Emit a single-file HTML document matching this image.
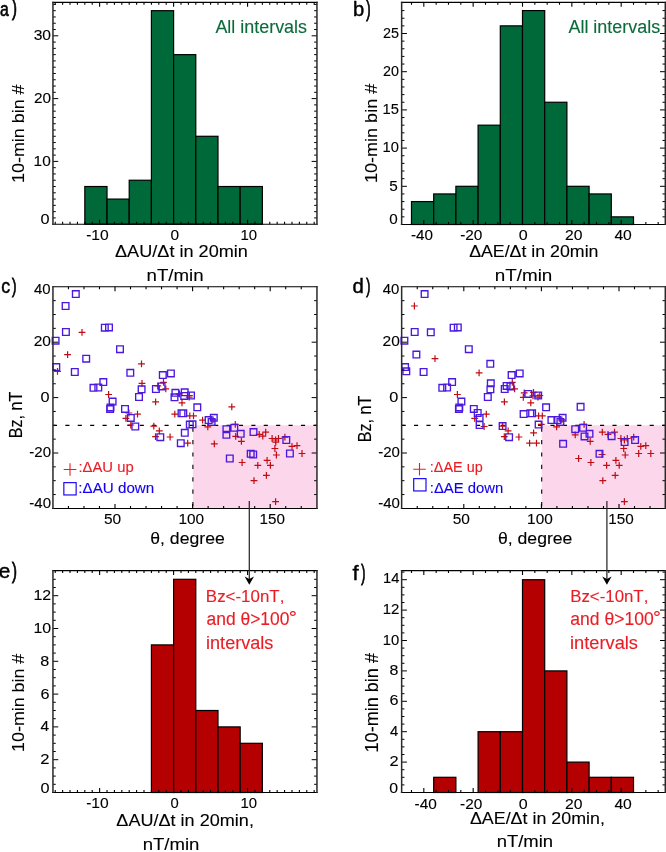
<!DOCTYPE html>
<html><head><meta charset="utf-8"><style>
html,body{margin:0;padding:0;background:#fff;width:666px;height:852px;overflow:hidden}
svg{display:block;will-change:transform}
text{font-family:"Liberation Sans",sans-serif;font-kerning:none;font-variant-ligatures:none}
</style></head><body>
<svg width="666" height="852" viewBox="0 0 666 852" font-family="Liberation Sans">
<rect width="666" height="852" fill="#fff"/>
<rect x="84.82" y="186.52" width="22.19" height="37.68" fill="#00693a" stroke="#000" stroke-width="1.2"/>
<rect x="107.02" y="199.08" width="22.19" height="25.12" fill="#00693a" stroke="#000" stroke-width="1.2"/>
<rect x="129.21" y="180.24" width="22.19" height="43.96" fill="#00693a" stroke="#000" stroke-width="1.2"/>
<rect x="151.41" y="10.68" width="22.19" height="213.52" fill="#00693a" stroke="#000" stroke-width="1.2"/>
<rect x="173.60" y="54.64" width="22.19" height="169.56" fill="#00693a" stroke="#000" stroke-width="1.2"/>
<rect x="195.79" y="136.28" width="22.19" height="87.92" fill="#00693a" stroke="#000" stroke-width="1.2"/>
<rect x="217.99" y="186.52" width="22.19" height="37.68" fill="#00693a" stroke="#000" stroke-width="1.2"/>
<rect x="240.18" y="186.52" width="22.19" height="37.68" fill="#00693a" stroke="#000" stroke-width="1.2"/>
<path d="M55.23,224.20v-2.4M55.23,2.35v2.4M62.63,224.20v-2.4M62.63,2.35v2.4M70.03,224.20v-2.4M70.03,2.35v2.4M77.43,224.20v-2.4M77.43,2.35v2.4M84.82,224.20v-2.4M84.82,2.35v2.4M92.22,224.20v-2.4M92.22,2.35v2.4M99.62,224.20v-4.4M99.62,2.35v4.4M107.02,224.20v-2.4M107.02,2.35v2.4M114.42,224.20v-2.4M114.42,2.35v2.4M121.81,224.20v-2.4M121.81,2.35v2.4M129.21,224.20v-2.4M129.21,2.35v2.4M136.61,224.20v-2.4M136.61,2.35v2.4M144.01,224.20v-2.4M144.01,2.35v2.4M151.41,224.20v-2.4M151.41,2.35v2.4M158.80,224.20v-2.4M158.80,2.35v2.4M166.20,224.20v-2.4M166.20,2.35v2.4M173.60,224.20v-4.4M173.60,2.35v4.4M181.00,224.20v-2.4M181.00,2.35v2.4M188.40,224.20v-2.4M188.40,2.35v2.4M195.79,224.20v-2.4M195.79,2.35v2.4M203.19,224.20v-2.4M203.19,2.35v2.4M210.59,224.20v-2.4M210.59,2.35v2.4M217.99,224.20v-2.4M217.99,2.35v2.4M225.39,224.20v-2.4M225.39,2.35v2.4M232.78,224.20v-2.4M232.78,2.35v2.4M240.18,224.20v-2.4M240.18,2.35v2.4M247.58,224.20v-4.4M247.58,2.35v4.4M254.98,224.20v-2.4M254.98,2.35v2.4M262.38,224.20v-2.4M262.38,2.35v2.4M269.77,224.20v-2.4M269.77,2.35v2.4M277.17,224.20v-2.4M277.17,2.35v2.4M284.57,224.20v-2.4M284.57,2.35v2.4M291.97,224.20v-2.4M291.97,2.35v2.4M299.37,224.20v-2.4M299.37,2.35v2.4M306.76,224.20v-2.4M306.76,2.35v2.4M314.16,224.20v-2.4M314.16,2.35v2.4" stroke="#000" stroke-width="1.1" fill="none"/>
<path d="M52.95,217.92h2.8M316.95,217.92h-2.8M52.95,211.64h2.8M316.95,211.64h-2.8M52.95,205.36h2.8M316.95,205.36h-2.8M52.95,199.08h2.8M316.95,199.08h-2.8M52.95,192.80h2.8M316.95,192.80h-2.8M52.95,186.52h2.8M316.95,186.52h-2.8M52.95,180.24h2.8M316.95,180.24h-2.8M52.95,173.96h2.8M316.95,173.96h-2.8M52.95,167.68h2.8M316.95,167.68h-2.8M52.95,161.40h5.3M316.95,161.40h-5.3M52.95,155.12h2.8M316.95,155.12h-2.8M52.95,148.84h2.8M316.95,148.84h-2.8M52.95,142.56h2.8M316.95,142.56h-2.8M52.95,136.28h2.8M316.95,136.28h-2.8M52.95,130.00h2.8M316.95,130.00h-2.8M52.95,123.72h2.8M316.95,123.72h-2.8M52.95,117.44h2.8M316.95,117.44h-2.8M52.95,111.16h2.8M316.95,111.16h-2.8M52.95,104.88h2.8M316.95,104.88h-2.8M52.95,98.60h5.3M316.95,98.60h-5.3M52.95,92.32h2.8M316.95,92.32h-2.8M52.95,86.04h2.8M316.95,86.04h-2.8M52.95,79.76h2.8M316.95,79.76h-2.8M52.95,73.48h2.8M316.95,73.48h-2.8M52.95,67.20h2.8M316.95,67.20h-2.8M52.95,60.92h2.8M316.95,60.92h-2.8M52.95,54.64h2.8M316.95,54.64h-2.8M52.95,48.36h2.8M316.95,48.36h-2.8M52.95,42.08h2.8M316.95,42.08h-2.8M52.95,35.80h5.3M316.95,35.80h-5.3M52.95,29.52h2.8M316.95,29.52h-2.8M52.95,23.24h2.8M316.95,23.24h-2.8M52.95,16.96h2.8M316.95,16.96h-2.8M52.95,10.68h2.8M316.95,10.68h-2.8M52.95,4.40h2.8M316.95,4.40h-2.8" stroke="#000" stroke-width="1.0" fill="none"/>
<path d="M52.20,2.35H317.70M52.20,224.20H317.70" stroke="#000" stroke-width="1.05" fill="none"/>
<path d="M52.95,1.83V224.72M316.95,1.83V224.72" stroke="#2a2a2a" stroke-width="1.5" fill="none"/>
<rect x="411.49" y="201.58" width="22.20" height="22.92" fill="#00693a" stroke="#000" stroke-width="1.2"/>
<rect x="433.69" y="193.94" width="22.20" height="30.56" fill="#00693a" stroke="#000" stroke-width="1.2"/>
<rect x="455.89" y="186.30" width="22.20" height="38.20" fill="#00693a" stroke="#000" stroke-width="1.2"/>
<rect x="478.09" y="125.18" width="22.20" height="99.32" fill="#00693a" stroke="#000" stroke-width="1.2"/>
<rect x="500.30" y="25.86" width="22.20" height="198.64" fill="#00693a" stroke="#000" stroke-width="1.2"/>
<rect x="522.50" y="10.58" width="22.20" height="213.92" fill="#00693a" stroke="#000" stroke-width="1.2"/>
<rect x="544.70" y="102.26" width="22.20" height="122.24" fill="#00693a" stroke="#000" stroke-width="1.2"/>
<rect x="566.91" y="186.30" width="22.20" height="38.20" fill="#00693a" stroke="#000" stroke-width="1.2"/>
<rect x="589.11" y="193.94" width="22.20" height="30.56" fill="#00693a" stroke="#000" stroke-width="1.2"/>
<rect x="611.31" y="216.86" width="22.20" height="7.64" fill="#00693a" stroke="#000" stroke-width="1.2"/>
<path d="M411.49,224.50v-2.4M411.49,2.35v2.4M423.82,224.50v-4.4M423.82,2.35v4.4M436.15,224.50v-2.4M436.15,2.35v2.4M448.49,224.50v-2.4M448.49,2.35v2.4M460.82,224.50v-2.4M460.82,2.35v2.4M473.16,224.50v-4.4M473.16,2.35v4.4M485.50,224.50v-2.4M485.50,2.35v2.4M497.83,224.50v-2.4M497.83,2.35v2.4M510.17,224.50v-2.4M510.17,2.35v2.4M522.50,224.50v-4.4M522.50,2.35v4.4M534.84,224.50v-2.4M534.84,2.35v2.4M547.17,224.50v-2.4M547.17,2.35v2.4M559.50,224.50v-2.4M559.50,2.35v2.4M571.84,224.50v-4.4M571.84,2.35v4.4M584.17,224.50v-2.4M584.17,2.35v2.4M596.51,224.50v-2.4M596.51,2.35v2.4M608.85,224.50v-2.4M608.85,2.35v2.4M621.18,224.50v-4.4M621.18,2.35v4.4M633.51,224.50v-2.4M633.51,2.35v2.4M645.85,224.50v-2.4M645.85,2.35v2.4M658.18,224.50v-2.4M658.18,2.35v2.4" stroke="#000" stroke-width="1.1" fill="none"/>
<path d="M401.65,216.86h2.8M665.30,216.86h-2.8M401.65,209.22h2.8M665.30,209.22h-2.8M401.65,201.58h2.8M665.30,201.58h-2.8M401.65,193.94h2.8M665.30,193.94h-2.8M401.65,186.30h5.3M665.30,186.30h-5.3M401.65,178.66h2.8M665.30,178.66h-2.8M401.65,171.02h2.8M665.30,171.02h-2.8M401.65,163.38h2.8M665.30,163.38h-2.8M401.65,155.74h2.8M665.30,155.74h-2.8M401.65,148.10h5.3M665.30,148.10h-5.3M401.65,140.46h2.8M665.30,140.46h-2.8M401.65,132.82h2.8M665.30,132.82h-2.8M401.65,125.18h2.8M665.30,125.18h-2.8M401.65,117.54h2.8M665.30,117.54h-2.8M401.65,109.90h5.3M665.30,109.90h-5.3M401.65,102.26h2.8M665.30,102.26h-2.8M401.65,94.62h2.8M665.30,94.62h-2.8M401.65,86.98h2.8M665.30,86.98h-2.8M401.65,79.34h2.8M665.30,79.34h-2.8M401.65,71.70h5.3M665.30,71.70h-5.3M401.65,64.06h2.8M665.30,64.06h-2.8M401.65,56.42h2.8M665.30,56.42h-2.8M401.65,48.78h2.8M665.30,48.78h-2.8M401.65,41.14h2.8M665.30,41.14h-2.8M401.65,33.50h5.3M665.30,33.50h-5.3M401.65,25.86h2.8M665.30,25.86h-2.8M401.65,18.22h2.8M665.30,18.22h-2.8M401.65,10.58h2.8M665.30,10.58h-2.8" stroke="#000" stroke-width="1.0" fill="none"/>
<path d="M400.90,2.35H666.05M400.90,224.50H666.05" stroke="#000" stroke-width="1.05" fill="none"/>
<path d="M401.65,1.83V225.03M665.30,1.83V225.03" stroke="#2a2a2a" stroke-width="1.5" fill="none"/>
<rect x="192.90" y="425.30" width="124.05" height="83.10" fill="#fcd6eb"/>
<path d="M52.95,425.30H316.95" stroke="#000" stroke-width="1.15" stroke-dasharray="4.1 8.3" fill="none"/>
<path d="M192.90,425.30V508.40" stroke="#000" stroke-width="1.1" stroke-dasharray="4.2 8.2" stroke-dashoffset="10.1" fill="none"/>
<path d="M78.60,332.30h6.80M82.00,328.90v6.80M64.20,354.60h6.80M67.60,351.20v6.80M138.10,363.80h6.80M141.50,360.40v6.80M54.10,371.30h6.80M57.50,367.90v6.80M138.60,383.30h6.80M142.00,379.90v6.80M105.20,394.50h6.80M108.60,391.10v6.80M125.50,413.00h6.80M128.90,409.60v6.80M134.10,414.10h6.80M137.50,410.70v6.80M122.50,418.40h6.80M125.90,415.00v6.80M127.40,425.00h6.80M130.80,421.60v6.80M154.40,385.90h6.80M157.80,382.50v6.80M160.10,382.30h6.80M163.50,378.90v6.80M162.40,388.90h6.80M165.80,385.50v6.80M152.20,401.80h6.80M155.60,398.40v6.80M176.10,393.90h6.80M179.50,390.50v6.80M186.00,395.50h6.80M189.40,392.10v6.80M185.80,397.10h6.80M189.20,393.70v6.80M178.60,402.90h6.80M182.00,399.50v6.80M228.40,406.80h6.80M231.80,403.40v6.80M171.40,414.10h6.80M174.80,410.70v6.80M186.40,415.90h6.80M189.80,412.50v6.80M190.10,415.90h6.80M193.50,412.50v6.80M199.20,420.10h6.80M202.60,416.70v6.80M209.70,419.80h6.80M213.10,416.40v6.80M204.40,426.80h6.80M207.80,423.40v6.80M150.40,426.10h6.80M153.80,422.70v6.80M150.40,426.10h6.80M153.80,422.70v6.80M155.90,430.90h6.80M159.30,427.50v6.80M152.10,436.70h6.80M155.50,433.30v6.80M166.70,437.00h6.80M170.10,433.60v6.80M184.30,443.20h6.80M187.70,439.80v6.80M210.90,443.80h6.80M214.30,440.40v6.80M231.90,424.30h6.80M235.30,420.90v6.80M232.30,436.40h6.80M235.70,433.00v6.80M238.00,441.40h6.80M241.40,438.00v6.80M255.80,434.30h6.80M259.20,430.90v6.80M259.40,436.20h6.80M262.80,432.80v6.80M262.30,432.10h6.80M265.70,428.70v6.80M268.70,438.50h6.80M272.10,435.10v6.80M272.20,440.00h6.80M275.60,436.60v6.80M272.40,442.10h6.80M275.80,438.70v6.80M275.10,438.50h6.80M278.50,435.10v6.80M281.50,437.10h6.80M284.90,433.70v6.80M288.60,446.40h6.80M292.00,443.00v6.80M293.60,445.70h6.80M297.00,442.30v6.80M271.50,448.50h6.80M274.90,445.10v6.80M273.00,455.00h6.80M276.40,451.60v6.80M298.60,453.50h6.80M302.00,450.10v6.80M238.70,462.50h6.80M242.10,459.10v6.80M254.40,465.40h6.80M257.80,462.00v6.80M263.70,460.40h6.80M267.10,457.00v6.80M267.00,465.40h6.80M270.40,462.00v6.80M263.00,475.40h6.80M266.40,472.00v6.80M250.60,480.60h6.80M254.00,477.20v6.80M272.20,501.60h6.80M275.60,498.20v6.80" stroke="#c00c14" stroke-width="1.2" fill="none"/>
<path d="M72.47,290.77h6.66v6.66h-6.66zM62.27,302.67h6.66v6.66h-6.66zM62.57,328.67h6.66v6.66h-6.66zM52.27,337.37h6.66v6.66h-6.66zM101.47,324.37h6.66v6.66h-6.66zM105.67,324.07h6.66v6.66h-6.66zM116.67,345.87h6.66v6.66h-6.66zM82.87,355.37h6.66v6.66h-6.66zM52.97,363.77h6.66v6.66h-6.66zM71.47,368.67h6.66v6.66h-6.66zM126.97,369.47h6.66v6.66h-6.66zM99.97,378.77h6.66v6.66h-6.66zM90.17,384.47h6.66v6.66h-6.66zM94.97,384.17h6.66v6.66h-6.66zM138.27,385.97h6.66v6.66h-6.66zM135.67,393.67h6.66v6.66h-6.66zM109.27,398.27h6.66v6.66h-6.66zM107.17,404.07h6.66v6.66h-6.66zM106.77,405.77h6.66v6.66h-6.66zM121.67,405.57h6.66v6.66h-6.66zM127.47,414.57h6.66v6.66h-6.66zM131.97,423.17h6.66v6.66h-6.66zM159.47,371.77h6.66v6.66h-6.66zM167.57,370.07h6.66v6.66h-6.66zM152.57,385.67h6.66v6.66h-6.66zM158.27,383.07h6.66v6.66h-6.66zM172.07,389.47h6.66v6.66h-6.66zM171.17,393.97h6.66v6.66h-6.66zM181.37,388.97h6.66v6.66h-6.66zM180.87,392.57h6.66v6.66h-6.66zM187.67,392.17h6.66v6.66h-6.66zM193.97,403.97h6.66v6.66h-6.66zM178.17,409.97h6.66v6.66h-6.66zM179.97,409.97h6.66v6.66h-6.66zM205.27,416.77h6.66v6.66h-6.66zM210.47,414.47h6.66v6.66h-6.66zM208.27,418.57h6.66v6.66h-6.66zM186.47,421.27h6.66v6.66h-6.66zM189.17,420.97h6.66v6.66h-6.66zM181.47,429.47h6.66v6.66h-6.66zM156.97,433.87h6.66v6.66h-6.66zM177.47,439.87h6.66v6.66h-6.66zM226.47,455.17h6.66v6.66h-6.66zM223.07,425.87h6.66v6.66h-6.66zM223.07,431.47h6.66v6.66h-6.66zM230.97,424.47h6.66v6.66h-6.66zM237.37,430.47h6.66v6.66h-6.66zM250.17,428.77h6.66v6.66h-6.66zM282.97,436.67h6.66v6.66h-6.66zM286.57,450.17h6.66v6.66h-6.66zM247.37,450.47h6.66v6.66h-6.66zM249.87,451.17h6.66v6.66h-6.66z" stroke="#4a18e0" stroke-width="1.35" fill="none"/>
<path d="M68.44,508.40v-2.4M68.44,286.80v2.4M83.96,508.40v-2.4M83.96,286.80v2.4M99.48,508.40v-2.4M99.48,286.80v2.4M115.00,508.40v-4.4M115.00,286.80v4.4M130.52,508.40v-2.4M130.52,286.80v2.4M146.04,508.40v-2.4M146.04,286.80v2.4M161.56,508.40v-2.4M161.56,286.80v2.4M177.08,508.40v-2.4M177.08,286.80v2.4M192.60,508.40v-4.4M192.60,286.80v4.4M208.12,508.40v-2.4M208.12,286.80v2.4M223.64,508.40v-2.4M223.64,286.80v2.4M239.16,508.40v-2.4M239.16,286.80v2.4M254.68,508.40v-2.4M254.68,286.80v2.4M270.20,508.40v-4.4M270.20,286.80v4.4M285.72,508.40v-2.4M285.72,286.80v2.4M301.24,508.40v-2.4M301.24,286.80v2.4" stroke="#000" stroke-width="1.1" fill="none"/>
<path d="M52.95,494.55h2.8M316.95,494.55h-2.8M52.95,480.70h2.8M316.95,480.70h-2.8M52.95,466.85h2.8M316.95,466.85h-2.8M52.95,453.00h5.3M316.95,453.00h-5.3M52.95,439.15h2.8M316.95,439.15h-2.8M52.95,425.30h2.8M316.95,425.30h-2.8M52.95,411.45h2.8M316.95,411.45h-2.8M52.95,397.60h5.3M316.95,397.60h-5.3M52.95,383.75h2.8M316.95,383.75h-2.8M52.95,369.90h2.8M316.95,369.90h-2.8M52.95,356.05h2.8M316.95,356.05h-2.8M52.95,342.20h5.3M316.95,342.20h-5.3M52.95,328.35h2.8M316.95,328.35h-2.8M52.95,314.50h2.8M316.95,314.50h-2.8M52.95,300.65h2.8M316.95,300.65h-2.8" stroke="#000" stroke-width="1.0" fill="none"/>
<path d="M52.20,286.80H317.70M52.20,508.40H317.70" stroke="#000" stroke-width="1.05" fill="none"/>
<path d="M52.95,286.28V508.92M316.95,286.28V508.92" stroke="#2a2a2a" stroke-width="1.5" fill="none"/>
<rect x="541.70" y="425.30" width="123.60" height="83.10" fill="#fcd6eb"/>
<path d="M401.65,425.30H665.30" stroke="#000" stroke-width="1.15" stroke-dasharray="4.1 8.3" fill="none"/>
<path d="M541.70,425.30V508.40" stroke="#000" stroke-width="1.1" stroke-dasharray="4.2 8.2" stroke-dashoffset="10.1" fill="none"/>
<path d="M411.00,306.00h6.80M414.40,302.60v6.80M431.60,358.70h6.80M435.00,355.30v6.80M475.70,372.80h6.80M479.10,369.40v6.80M454.00,394.50h6.80M457.40,391.10v6.80M482.90,414.10h6.80M486.30,410.70v6.80M471.30,418.40h6.80M474.70,415.00v6.80M480.70,426.50h6.80M484.10,423.10v6.80M508.90,382.30h6.80M512.30,378.90v6.80M511.20,388.90h6.80M514.60,385.50v6.80M501.00,401.80h6.80M504.40,398.40v6.80M520.80,392.80h6.80M524.20,389.40v6.80M519.90,397.30h6.80M523.30,393.90v6.80M530.10,392.30h6.80M533.50,388.90v6.80M529.60,395.90h6.80M533.00,392.50v6.80M536.40,395.50h6.80M539.80,392.10v6.80M534.60,397.10h6.80M538.00,393.70v6.80M527.40,402.90h6.80M530.80,399.50v6.80M535.20,415.90h6.80M538.60,412.50v6.80M538.90,415.90h6.80M542.30,412.50v6.80M558.50,419.80h6.80M561.90,416.40v6.80M553.20,426.80h6.80M556.60,423.40v6.80M537.90,424.30h6.80M541.30,420.90v6.80M530.20,432.80h6.80M533.60,429.40v6.80M499.20,426.10h6.80M502.60,422.70v6.80M504.70,430.90h6.80M508.10,427.50v6.80M500.90,436.70h6.80M504.30,433.30v6.80M515.50,437.00h6.80M518.90,433.60v6.80M526.20,443.20h6.80M529.60,439.80v6.80M533.10,443.20h6.80M536.50,439.80v6.80M575.20,458.50h6.80M578.60,455.10v6.80M571.80,434.80h6.80M575.20,431.40v6.80M580.70,424.30h6.80M584.10,420.90v6.80M586.80,441.40h6.80M590.20,438.00v6.80M598.90,432.10h6.80M602.30,428.70v6.80M604.60,434.30h6.80M608.00,430.90v6.80M611.10,432.10h6.80M614.50,428.70v6.80M617.50,438.50h6.80M620.90,435.10v6.80M621.00,440.00h6.80M624.40,436.60v6.80M623.90,438.50h6.80M627.30,435.10v6.80M630.30,437.10h6.80M633.70,433.70v6.80M637.40,446.40h6.80M640.80,443.00v6.80M642.40,445.70h6.80M645.80,442.30v6.80M620.30,448.50h6.80M623.70,445.10v6.80M621.80,455.00h6.80M625.20,451.60v6.80M635.30,453.50h6.80M638.70,450.10v6.80M647.40,453.50h6.80M650.80,450.10v6.80M598.60,454.50h6.80M602.00,451.10v6.80M587.50,462.50h6.80M590.90,459.10v6.80M603.20,465.40h6.80M606.60,462.00v6.80M612.50,460.40h6.80M615.90,457.00v6.80M615.80,465.40h6.80M619.20,462.00v6.80M611.80,475.40h6.80M615.20,472.00v6.80M599.40,480.60h6.80M602.80,477.20v6.80M621.00,501.60h6.80M624.40,498.20v6.80" stroke="#c00c14" stroke-width="1.2" fill="none"/>
<path d="M421.27,290.77h6.66v6.66h-6.66zM411.37,328.67h6.66v6.66h-6.66zM401.07,337.37h6.66v6.66h-6.66zM450.27,324.37h6.66v6.66h-6.66zM454.47,324.07h6.66v6.66h-6.66zM465.47,345.87h6.66v6.66h-6.66zM427.47,328.97h6.66v6.66h-6.66zM413.07,351.27h6.66v6.66h-6.66zM486.97,360.47h6.66v6.66h-6.66zM401.77,363.77h6.66v6.66h-6.66zM402.97,367.97h6.66v6.66h-6.66zM420.27,368.67h6.66v6.66h-6.66zM448.77,378.77h6.66v6.66h-6.66zM438.97,384.47h6.66v6.66h-6.66zM443.77,384.17h6.66v6.66h-6.66zM487.47,379.97h6.66v6.66h-6.66zM487.07,385.97h6.66v6.66h-6.66zM484.47,393.67h6.66v6.66h-6.66zM458.07,398.27h6.66v6.66h-6.66zM455.97,404.07h6.66v6.66h-6.66zM455.57,405.77h6.66v6.66h-6.66zM470.47,405.57h6.66v6.66h-6.66zM474.37,409.67h6.66v6.66h-6.66zM476.27,414.57h6.66v6.66h-6.66zM476.27,421.67h6.66v6.66h-6.66zM508.27,371.77h6.66v6.66h-6.66zM516.37,370.07h6.66v6.66h-6.66zM501.37,385.67h6.66v6.66h-6.66zM507.07,383.07h6.66v6.66h-6.66zM503.27,382.57h6.66v6.66h-6.66zM524.97,390.57h6.66v6.66h-6.66zM534.87,392.17h6.66v6.66h-6.66zM542.77,403.97h6.66v6.66h-6.66zM577.27,403.47h6.66v6.66h-6.66zM520.27,410.77h6.66v6.66h-6.66zM526.97,409.97h6.66v6.66h-6.66zM528.77,409.97h6.66v6.66h-6.66zM548.07,416.77h6.66v6.66h-6.66zM554.07,416.77h6.66v6.66h-6.66zM559.27,414.47h6.66v6.66h-6.66zM557.07,418.57h6.66v6.66h-6.66zM535.27,421.27h6.66v6.66h-6.66zM499.27,422.77h6.66v6.66h-6.66zM505.77,433.87h6.66v6.66h-6.66zM559.77,440.47h6.66v6.66h-6.66zM571.87,425.87h6.66v6.66h-6.66zM579.77,424.47h6.66v6.66h-6.66zM586.17,430.47h6.66v6.66h-6.66zM581.17,433.07h6.66v6.66h-6.66zM608.27,432.87h6.66v6.66h-6.66zM621.27,438.77h6.66v6.66h-6.66zM631.77,436.67h6.66v6.66h-6.66zM596.17,450.47h6.66v6.66h-6.66z" stroke="#4a18e0" stroke-width="1.35" fill="none"/>
<path d="M417.24,508.40v-2.4M417.24,286.80v2.4M432.76,508.40v-2.4M432.76,286.80v2.4M448.28,508.40v-2.4M448.28,286.80v2.4M463.80,508.40v-4.4M463.80,286.80v4.4M479.32,508.40v-2.4M479.32,286.80v2.4M494.84,508.40v-2.4M494.84,286.80v2.4M510.36,508.40v-2.4M510.36,286.80v2.4M525.88,508.40v-2.4M525.88,286.80v2.4M541.40,508.40v-4.4M541.40,286.80v4.4M556.92,508.40v-2.4M556.92,286.80v2.4M572.44,508.40v-2.4M572.44,286.80v2.4M587.96,508.40v-2.4M587.96,286.80v2.4M603.48,508.40v-2.4M603.48,286.80v2.4M619.00,508.40v-4.4M619.00,286.80v4.4M634.52,508.40v-2.4M634.52,286.80v2.4M650.04,508.40v-2.4M650.04,286.80v2.4" stroke="#000" stroke-width="1.1" fill="none"/>
<path d="M401.65,494.55h2.8M665.30,494.55h-2.8M401.65,480.70h2.8M665.30,480.70h-2.8M401.65,466.85h2.8M665.30,466.85h-2.8M401.65,453.00h5.3M665.30,453.00h-5.3M401.65,439.15h2.8M665.30,439.15h-2.8M401.65,425.30h2.8M665.30,425.30h-2.8M401.65,411.45h2.8M665.30,411.45h-2.8M401.65,397.60h5.3M665.30,397.60h-5.3M401.65,383.75h2.8M665.30,383.75h-2.8M401.65,369.90h2.8M665.30,369.90h-2.8M401.65,356.05h2.8M665.30,356.05h-2.8M401.65,342.20h5.3M665.30,342.20h-5.3M401.65,328.35h2.8M665.30,328.35h-2.8M401.65,314.50h2.8M665.30,314.50h-2.8M401.65,300.65h2.8M665.30,300.65h-2.8" stroke="#000" stroke-width="1.0" fill="none"/>
<path d="M400.90,286.80H666.05M400.90,508.40H666.05" stroke="#000" stroke-width="1.05" fill="none"/>
<path d="M401.65,286.28V508.92M665.30,286.28V508.92" stroke="#2a2a2a" stroke-width="1.5" fill="none"/>
<rect x="151.41" y="644.90" width="22.19" height="147.60" fill="#b40000" stroke="#000" stroke-width="1.2"/>
<rect x="173.60" y="579.30" width="22.19" height="213.20" fill="#b40000" stroke="#000" stroke-width="1.2"/>
<rect x="195.79" y="710.50" width="22.19" height="82.00" fill="#b40000" stroke="#000" stroke-width="1.2"/>
<rect x="217.99" y="726.90" width="22.19" height="65.60" fill="#b40000" stroke="#000" stroke-width="1.2"/>
<rect x="240.18" y="743.30" width="22.19" height="49.20" fill="#b40000" stroke="#000" stroke-width="1.2"/>
<path d="M55.23,792.50v-2.4M55.23,570.60v2.4M62.63,792.50v-2.4M62.63,570.60v2.4M70.03,792.50v-2.4M70.03,570.60v2.4M77.43,792.50v-2.4M77.43,570.60v2.4M84.82,792.50v-2.4M84.82,570.60v2.4M92.22,792.50v-2.4M92.22,570.60v2.4M99.62,792.50v-4.4M99.62,570.60v4.4M107.02,792.50v-2.4M107.02,570.60v2.4M114.42,792.50v-2.4M114.42,570.60v2.4M121.81,792.50v-2.4M121.81,570.60v2.4M129.21,792.50v-2.4M129.21,570.60v2.4M136.61,792.50v-2.4M136.61,570.60v2.4M144.01,792.50v-2.4M144.01,570.60v2.4M151.41,792.50v-2.4M151.41,570.60v2.4M158.80,792.50v-2.4M158.80,570.60v2.4M166.20,792.50v-2.4M166.20,570.60v2.4M173.60,792.50v-4.4M173.60,570.60v4.4M181.00,792.50v-2.4M181.00,570.60v2.4M188.40,792.50v-2.4M188.40,570.60v2.4M195.79,792.50v-2.4M195.79,570.60v2.4M203.19,792.50v-2.4M203.19,570.60v2.4M210.59,792.50v-2.4M210.59,570.60v2.4M217.99,792.50v-2.4M217.99,570.60v2.4M225.39,792.50v-2.4M225.39,570.60v2.4M232.78,792.50v-2.4M232.78,570.60v2.4M240.18,792.50v-2.4M240.18,570.60v2.4M247.58,792.50v-4.4M247.58,570.60v4.4M254.98,792.50v-2.4M254.98,570.60v2.4M262.38,792.50v-2.4M262.38,570.60v2.4M269.77,792.50v-2.4M269.77,570.60v2.4M277.17,792.50v-2.4M277.17,570.60v2.4M284.57,792.50v-2.4M284.57,570.60v2.4M291.97,792.50v-2.4M291.97,570.60v2.4M299.37,792.50v-2.4M299.37,570.60v2.4M306.76,792.50v-2.4M306.76,570.60v2.4M314.16,792.50v-2.4M314.16,570.60v2.4" stroke="#000" stroke-width="1.1" fill="none"/>
<path d="M52.95,784.30h2.8M316.95,784.30h-2.8M52.95,776.10h2.8M316.95,776.10h-2.8M52.95,767.90h2.8M316.95,767.90h-2.8M52.95,759.70h5.3M316.95,759.70h-5.3M52.95,751.50h2.8M316.95,751.50h-2.8M52.95,743.30h2.8M316.95,743.30h-2.8M52.95,735.10h2.8M316.95,735.10h-2.8M52.95,726.90h5.3M316.95,726.90h-5.3M52.95,718.70h2.8M316.95,718.70h-2.8M52.95,710.50h2.8M316.95,710.50h-2.8M52.95,702.30h2.8M316.95,702.30h-2.8M52.95,694.10h5.3M316.95,694.10h-5.3M52.95,685.90h2.8M316.95,685.90h-2.8M52.95,677.70h2.8M316.95,677.70h-2.8M52.95,669.50h2.8M316.95,669.50h-2.8M52.95,661.30h5.3M316.95,661.30h-5.3M52.95,653.10h2.8M316.95,653.10h-2.8M52.95,644.90h2.8M316.95,644.90h-2.8M52.95,636.70h2.8M316.95,636.70h-2.8M52.95,628.50h5.3M316.95,628.50h-5.3M52.95,620.30h2.8M316.95,620.30h-2.8M52.95,612.10h2.8M316.95,612.10h-2.8M52.95,603.90h2.8M316.95,603.90h-2.8M52.95,595.70h5.3M316.95,595.70h-5.3M52.95,587.50h2.8M316.95,587.50h-2.8M52.95,579.30h2.8M316.95,579.30h-2.8" stroke="#000" stroke-width="1.0" fill="none"/>
<path d="M52.20,570.60H317.70M52.20,792.50H317.70" stroke="#000" stroke-width="1.05" fill="none"/>
<path d="M52.95,570.08V793.02M316.95,570.08V793.02" stroke="#2a2a2a" stroke-width="1.5" fill="none"/>
<rect x="433.69" y="777.30" width="22.20" height="15.20" fill="#b40000" stroke="#000" stroke-width="1.2"/>
<rect x="478.09" y="731.70" width="22.20" height="60.80" fill="#b40000" stroke="#000" stroke-width="1.2"/>
<rect x="500.30" y="731.70" width="22.20" height="60.80" fill="#b40000" stroke="#000" stroke-width="1.2"/>
<rect x="522.50" y="579.70" width="22.20" height="212.80" fill="#b40000" stroke="#000" stroke-width="1.2"/>
<rect x="544.70" y="670.90" width="22.20" height="121.60" fill="#b40000" stroke="#000" stroke-width="1.2"/>
<rect x="566.91" y="762.10" width="22.20" height="30.40" fill="#b40000" stroke="#000" stroke-width="1.2"/>
<rect x="589.11" y="777.30" width="22.20" height="15.20" fill="#b40000" stroke="#000" stroke-width="1.2"/>
<rect x="611.31" y="777.30" width="22.20" height="15.20" fill="#b40000" stroke="#000" stroke-width="1.2"/>
<path d="M411.49,792.50v-2.4M411.49,570.60v2.4M423.82,792.50v-4.4M423.82,570.60v4.4M436.15,792.50v-2.4M436.15,570.60v2.4M448.49,792.50v-2.4M448.49,570.60v2.4M460.82,792.50v-2.4M460.82,570.60v2.4M473.16,792.50v-4.4M473.16,570.60v4.4M485.50,792.50v-2.4M485.50,570.60v2.4M497.83,792.50v-2.4M497.83,570.60v2.4M510.17,792.50v-2.4M510.17,570.60v2.4M522.50,792.50v-4.4M522.50,570.60v4.4M534.84,792.50v-2.4M534.84,570.60v2.4M547.17,792.50v-2.4M547.17,570.60v2.4M559.50,792.50v-2.4M559.50,570.60v2.4M571.84,792.50v-4.4M571.84,570.60v4.4M584.17,792.50v-2.4M584.17,570.60v2.4M596.51,792.50v-2.4M596.51,570.60v2.4M608.85,792.50v-2.4M608.85,570.60v2.4M621.18,792.50v-4.4M621.18,570.60v4.4M633.51,792.50v-2.4M633.51,570.60v2.4M645.85,792.50v-2.4M645.85,570.60v2.4M658.18,792.50v-2.4M658.18,570.60v2.4" stroke="#000" stroke-width="1.1" fill="none"/>
<path d="M401.65,784.90h2.8M665.30,784.90h-2.8M401.65,777.30h2.8M665.30,777.30h-2.8M401.65,769.70h2.8M665.30,769.70h-2.8M401.65,762.10h5.3M665.30,762.10h-5.3M401.65,754.50h2.8M665.30,754.50h-2.8M401.65,746.90h2.8M665.30,746.90h-2.8M401.65,739.30h2.8M665.30,739.30h-2.8M401.65,731.70h5.3M665.30,731.70h-5.3M401.65,724.10h2.8M665.30,724.10h-2.8M401.65,716.50h2.8M665.30,716.50h-2.8M401.65,708.90h2.8M665.30,708.90h-2.8M401.65,701.30h5.3M665.30,701.30h-5.3M401.65,693.70h2.8M665.30,693.70h-2.8M401.65,686.10h2.8M665.30,686.10h-2.8M401.65,678.50h2.8M665.30,678.50h-2.8M401.65,670.90h5.3M665.30,670.90h-5.3M401.65,663.30h2.8M665.30,663.30h-2.8M401.65,655.70h2.8M665.30,655.70h-2.8M401.65,648.10h2.8M665.30,648.10h-2.8M401.65,640.50h5.3M665.30,640.50h-5.3M401.65,632.90h2.8M665.30,632.90h-2.8M401.65,625.30h2.8M665.30,625.30h-2.8M401.65,617.70h2.8M665.30,617.70h-2.8M401.65,610.10h5.3M665.30,610.10h-5.3M401.65,602.50h2.8M665.30,602.50h-2.8M401.65,594.90h2.8M665.30,594.90h-2.8M401.65,587.30h2.8M665.30,587.30h-2.8M401.65,579.70h5.3M665.30,579.70h-5.3M401.65,572.10h2.8M665.30,572.10h-2.8" stroke="#000" stroke-width="1.0" fill="none"/>
<path d="M400.90,570.60H666.05M400.90,792.50H666.05" stroke="#000" stroke-width="1.05" fill="none"/>
<path d="M401.65,570.08V793.02M665.30,570.08V793.02" stroke="#2a2a2a" stroke-width="1.5" fill="none"/>
<line x1="249.30" y1="501.00" x2="249.30" y2="581.80" stroke="#2a2a2a" stroke-width="1.25" />
<path d="M244.60,576.60L249.30,579.00L254.00,576.60L249.30,584.80z" fill="#000"/>
<line x1="606.90" y1="501.00" x2="606.90" y2="581.70" stroke="#2a2a2a" stroke-width="1.25" />
<path d="M602.20,576.50L606.90,578.90L611.60,576.50L606.90,584.70z" fill="#000"/>
<path d="M63.70,469.50h12.6M70.00,463.20v12.6" stroke="#eb1c24" stroke-width="1.1" fill="none"/>
<rect x="63.85" y="482.65" width="12.3" height="12.3" fill="none" stroke="#1400f0" stroke-width="1.15"/>
<path d="M413.20,469.30h12.6M419.50,463.00v12.6" stroke="#eb1c24" stroke-width="1.1" fill="none"/>
<rect x="413.70" y="478.65" width="12.3" height="12.3" fill="none" stroke="#1400f0" stroke-width="1.15"/>
<text transform="translate(-0.02,15.95) scale(0.8159,1)" font-size="19.33" fill="#000" stroke="#000" stroke-width="0.613">a</text>
<text transform="translate(12.09,15.09) scale(0.6957,1)" font-size="21.41" fill="#000" stroke="#000" stroke-width="0.791">)</text>
<text transform="translate(33.66,40.04) scale(1.0219,1)" font-size="15.30" fill="#000" stroke="#000" stroke-width="0.117">30</text>
<text transform="translate(33.99,102.74) scale(1.0116,1)" font-size="15.15" fill="#000" stroke="#000" stroke-width="0.119">20</text>
<text transform="translate(33.59,165.94) scale(1.0477,1)" font-size="14.72" fill="#000" stroke="#000" stroke-width="0.115">10</text>
<text transform="translate(40.42,224.34) scale(1.0741,1)" font-size="15.15" fill="#000" stroke="#000" stroke-width="0.112">0</text>
<text transform="translate(86.17,240.04) scale(1.0216,1)" font-size="15.30" fill="#000" stroke="#000" stroke-width="0.117">-10</text>
<text transform="translate(170.46,240.04) scale(1.0093,1)" font-size="15.30" fill="#000" stroke="#000" stroke-width="0.119">0</text>
<text transform="translate(240.52,240.04) scale(0.9757,1)" font-size="15.30" fill="#000" stroke="#000" stroke-width="0.123">10</text>
<text transform="translate(215.42,32.64) scale(0.9709,1)" font-size="18.47" fill="#0b6b3a" stroke="#0b6b3a" stroke-width="0.124">All intervals</text>
<text transform="translate(115.02,257.34) scale(1.0488,1)" font-size="17.27" fill="#000" stroke="#000" stroke-width="0.114">ΔAU/Δt in 20min</text>
<text transform="translate(146.52,280.74) scale(1.0827,1)" font-size="17.27" fill="#000" stroke="#000" stroke-width="0.111">nT/min</text>
<text transform="translate(23.84,182.90) rotate(-90) scale(1.0565,1)" font-size="16.95" fill="#000" stroke="#000" stroke-width="0.114">10-min bin #</text>
<text transform="translate(352.93,16.47) scale(0.9728,1)" font-size="20.69" fill="#000" stroke="#000" stroke-width="0.463">b</text>
<text transform="translate(366.20,16.24) scale(0.6138,1)" font-size="21.20" fill="#000" stroke="#000" stroke-width="0.896">)</text>
<text transform="translate(382.94,37.94) scale(0.9871,1)" font-size="14.58" fill="#000" stroke="#000" stroke-width="0.122">25</text>
<text transform="translate(382.94,75.84) scale(0.9843,1)" font-size="14.58" fill="#000" stroke="#000" stroke-width="0.122">20</text>
<text transform="translate(382.54,114.24) scale(0.9980,1)" font-size="14.80" fill="#000" stroke="#000" stroke-width="0.120">15</text>
<text transform="translate(382.54,152.39) scale(1.0099,1)" font-size="14.58" fill="#000" stroke="#000" stroke-width="0.119">10</text>
<text transform="translate(389.35,190.74) scale(1.0080,1)" font-size="15.23" fill="#000" stroke="#000" stroke-width="0.119">5</text>
<text transform="translate(389.37,224.34) scale(1.0051,1)" font-size="15.15" fill="#000" stroke="#000" stroke-width="0.119">0</text>
<text transform="translate(410.98,239.94) scale(1.0364,1)" font-size="14.72" fill="#000" stroke="#000" stroke-width="0.116">-40</text>
<text transform="translate(460.18,239.94) scale(1.0464,1)" font-size="14.72" fill="#000" stroke="#000" stroke-width="0.115">-20</text>
<text transform="translate(518.83,239.94) scale(1.0912,1)" font-size="14.72" fill="#000" stroke="#000" stroke-width="0.110">0</text>
<text transform="translate(564.97,239.94) scale(1.0677,1)" font-size="14.72" fill="#000" stroke="#000" stroke-width="0.112">20</text>
<text transform="translate(614.40,239.94) scale(1.0658,1)" font-size="14.72" fill="#000" stroke="#000" stroke-width="0.113">40</text>
<text transform="translate(568.42,32.64) scale(0.9804,1)" font-size="18.33" fill="#0b6b3a" stroke="#0b6b3a" stroke-width="0.122">All intervals</text>
<text transform="translate(469.13,257.14) scale(1.0382,1)" font-size="17.12" fill="#000" stroke="#000" stroke-width="0.116">ΔAE/Δt in 20min</text>
<text transform="translate(494.71,280.54) scale(1.0926,1)" font-size="17.27" fill="#000" stroke="#000" stroke-width="0.110">nT/min</text>
<text transform="translate(377.24,182.91) rotate(-90) scale(1.0807,1)" font-size="16.67" fill="#000" stroke="#000" stroke-width="0.111">10-min bin #</text>
<text transform="translate(1.27,293.38) scale(0.9050,1)" font-size="19.61" fill="#000" stroke="#000" stroke-width="0.497">c</text>
<text transform="translate(12.10,293.10) scale(0.6413,1)" font-size="20.88" fill="#000" stroke="#000" stroke-width="0.858">)</text>
<text transform="translate(33.92,293.94) scale(1.0240,1)" font-size="14.58" fill="#000" stroke="#000" stroke-width="0.117">40</text>
<text transform="translate(33.68,346.34) scale(1.0343,1)" font-size="15.01" fill="#000" stroke="#000" stroke-width="0.116">20</text>
<text transform="translate(40.42,401.74) scale(1.1163,1)" font-size="14.58" fill="#000" stroke="#000" stroke-width="0.107">0</text>
<text transform="translate(29.29,457.34) scale(0.9832,1)" font-size="15.30" fill="#000" stroke="#000" stroke-width="0.122">-20</text>
<text transform="translate(29.29,508.44) scale(0.9832,1)" font-size="15.30" fill="#000" stroke="#000" stroke-width="0.122">-40</text>
<text transform="translate(382.82,293.94) scale(1.0240,1)" font-size="14.58" fill="#000" stroke="#000" stroke-width="0.117">40</text>
<text transform="translate(382.58,346.34) scale(1.0343,1)" font-size="15.01" fill="#000" stroke="#000" stroke-width="0.116">20</text>
<text transform="translate(389.32,401.74) scale(1.1163,1)" font-size="14.58" fill="#000" stroke="#000" stroke-width="0.107">0</text>
<text transform="translate(378.19,457.34) scale(0.9832,1)" font-size="15.30" fill="#000" stroke="#000" stroke-width="0.122">-20</text>
<text transform="translate(378.19,508.44) scale(0.9832,1)" font-size="15.30" fill="#000" stroke="#000" stroke-width="0.122">-40</text>
<text transform="translate(103.94,524.04) scale(1.0821,1)" font-size="14.29" fill="#000" stroke="#000" stroke-width="0.111">50</text>
<text transform="translate(178.39,524.04) scale(1.0757,1)" font-size="14.29" fill="#000" stroke="#000" stroke-width="0.112">100</text>
<text transform="translate(259.50,524.04) scale(1.0667,1)" font-size="14.29" fill="#000" stroke="#000" stroke-width="0.113">150</text>
<text transform="translate(452.64,524.04) scale(1.0821,1)" font-size="14.29" fill="#000" stroke="#000" stroke-width="0.111">50</text>
<text transform="translate(527.09,524.04) scale(1.0757,1)" font-size="14.29" fill="#000" stroke="#000" stroke-width="0.112">100</text>
<text transform="translate(608.20,524.04) scale(1.0667,1)" font-size="14.29" fill="#000" stroke="#000" stroke-width="0.113">150</text>
<text transform="translate(150.25,543.74) scale(1.0316,1)" font-size="17.09" fill="#000" stroke="#000" stroke-width="0.116">θ, degree</text>
<text transform="translate(21.74,438.37) rotate(-90) scale(0.9124,1)" font-size="17.70" fill="#000" stroke="#000" stroke-width="0.132">Bz, nT</text>
<text transform="translate(78.41,471.84) scale(1.0653,1)" font-size="13.92" fill="#eb1c24" stroke="#eb1c24" stroke-width="0.113">:ΔAU up</text>
<text transform="translate(78.37,492.54) scale(1.0496,1)" font-size="14.46" fill="#1400f0" stroke="#1400f0" stroke-width="0.114">:ΔAU down</text>
<text transform="translate(352.57,293.38) scale(0.9796,1)" font-size="20.77" fill="#000" stroke="#000" stroke-width="0.459">d</text>
<text transform="translate(366.20,293.10) scale(0.5871,1)" font-size="20.88" fill="#000" stroke="#000" stroke-width="0.937">)</text>
<text transform="translate(497.95,543.94) scale(1.0400,1)" font-size="16.95" fill="#000" stroke="#000" stroke-width="0.115">θ, degree</text>
<text transform="translate(370.64,442.27) rotate(-90) scale(0.9124,1)" font-size="17.70" fill="#000" stroke="#000" stroke-width="0.132">Bz, nT</text>
<text transform="translate(429.84,471.74) scale(0.9858,1)" font-size="14.65" fill="#eb1c24" stroke="#eb1c24" stroke-width="0.122">:ΔAE up</text>
<text transform="translate(429.80,492.54) scale(1.0285,1)" font-size="14.46" fill="#1400f0" stroke="#1400f0" stroke-width="0.117">:ΔAE down</text>
<text transform="translate(-1.16,578.17) scale(1.0401,1)" font-size="19.98" fill="#000" stroke="#000" stroke-width="0.433">e</text>
<text transform="translate(12.09,577.79) scale(0.6957,1)" font-size="21.41" fill="#000" stroke="#000" stroke-width="0.791">)</text>
<text transform="translate(33.45,599.94) scale(1.0803,1)" font-size="14.72" fill="#000" stroke="#000" stroke-width="0.111">12</text>
<text transform="translate(33.45,632.74) scale(1.0714,1)" font-size="14.87" fill="#000" stroke="#000" stroke-width="0.112">10</text>
<text transform="translate(40.26,665.84) scale(1.0661,1)" font-size="15.15" fill="#000" stroke="#000" stroke-width="0.113">8</text>
<text transform="translate(40.44,698.54) scale(1.0801,1)" font-size="15.01" fill="#000" stroke="#000" stroke-width="0.111">6</text>
<text transform="translate(40.61,731.24) scale(1.0040,1)" font-size="15.38" fill="#000" stroke="#000" stroke-width="0.120">4</text>
<text transform="translate(40.32,764.24) scale(1.0981,1)" font-size="15.15" fill="#000" stroke="#000" stroke-width="0.109">2</text>
<text transform="translate(40.42,792.54) scale(1.0741,1)" font-size="15.15" fill="#000" stroke="#000" stroke-width="0.112">0</text>
<text transform="translate(86.17,808.44) scale(1.1389,1)" font-size="13.72" fill="#000" stroke="#000" stroke-width="0.105">-10</text>
<text transform="translate(170.48,808.44) scale(1.0795,1)" font-size="13.72" fill="#000" stroke="#000" stroke-width="0.111">0</text>
<text transform="translate(240.52,808.44) scale(1.0877,1)" font-size="13.72" fill="#000" stroke="#000" stroke-width="0.110">10</text>
<text transform="translate(116.32,826.14) scale(1.1534,1)" font-size="15.67" fill="#000" stroke="#000" stroke-width="0.104">ΔAU/Δt in 20min,</text>
<text transform="translate(142.63,849.74) scale(1.1240,1)" font-size="16.54" fill="#000" stroke="#000" stroke-width="0.107">nT/min</text>
<text transform="translate(24.14,751.90) rotate(-90) scale(1.0282,1)" font-size="17.36" fill="#000" stroke="#000" stroke-width="0.117">10-min bin #</text>
<text transform="translate(205.87,602.04) scale(1.0135,1)" font-size="16.69" fill="#eb1c24" stroke="#eb1c24" stroke-width="0.118">Bz&lt;-10nT,</text>
<text transform="translate(206.52,625.44) scale(0.9597,1)" font-size="18.19" fill="#eb1c24" stroke="#eb1c24" stroke-width="0.125">and θ&gt;100</text>
<text transform="translate(288.83,623.05) scale(1.2008,1)" font-size="17.17" fill="#eb1c24" stroke="#eb1c24" stroke-width="0.100">°</text>
<text transform="translate(206.05,648.74) scale(0.9868,1)" font-size="18.33" fill="#eb1c24" stroke="#eb1c24" stroke-width="0.122">intervals</text>
<text transform="translate(352.61,580.38) scale(1.0539,1)" font-size="20.94" fill="#000" stroke="#000" stroke-width="0.427">f</text>
<text transform="translate(361.20,580.39) scale(0.5724,1)" font-size="21.41" fill="#000" stroke="#000" stroke-width="0.961">)</text>
<text transform="translate(382.93,583.44) scale(0.9891,1)" font-size="14.94" fill="#000" stroke="#000" stroke-width="0.121">14</text>
<text transform="translate(382.72,614.09) scale(0.9802,1)" font-size="15.30" fill="#000" stroke="#000" stroke-width="0.122">12</text>
<text transform="translate(382.73,644.84) scale(0.9691,1)" font-size="15.30" fill="#000" stroke="#000" stroke-width="0.124">10</text>
<text transform="translate(389.57,674.89) scale(1.0621,1)" font-size="15.01" fill="#000" stroke="#000" stroke-width="0.113">8</text>
<text transform="translate(389.44,705.44) scale(1.0801,1)" font-size="15.01" fill="#000" stroke="#000" stroke-width="0.111">6</text>
<text transform="translate(389.92,735.84) scale(0.9745,1)" font-size="15.23" fill="#000" stroke="#000" stroke-width="0.123">4</text>
<text transform="translate(389.43,766.24) scale(1.0939,1)" font-size="15.01" fill="#000" stroke="#000" stroke-width="0.110">2</text>
<text transform="translate(389.34,792.54) scale(1.0465,1)" font-size="15.15" fill="#000" stroke="#000" stroke-width="0.115">0</text>
<text transform="translate(414.58,808.54) scale(1.1113,1)" font-size="13.86" fill="#000" stroke="#000" stroke-width="0.108">-40</text>
<text transform="translate(460.08,808.54) scale(1.1113,1)" font-size="13.86" fill="#000" stroke="#000" stroke-width="0.108">-20</text>
<text transform="translate(518.73,808.54) scale(1.1589,1)" font-size="13.86" fill="#000" stroke="#000" stroke-width="0.104">0</text>
<text transform="translate(564.97,808.54) scale(1.1339,1)" font-size="13.86" fill="#000" stroke="#000" stroke-width="0.106">20</text>
<text transform="translate(614.40,808.54) scale(1.1318,1)" font-size="13.86" fill="#000" stroke="#000" stroke-width="0.106">40</text>
<text transform="translate(469.93,823.94) scale(1.0796,1)" font-size="16.54" fill="#000" stroke="#000" stroke-width="0.111">ΔAE/Δt in 20min,</text>
<text transform="translate(496.63,847.44) scale(1.1178,1)" font-size="16.54" fill="#000" stroke="#000" stroke-width="0.107">nT/min</text>
<text transform="translate(377.84,752.42) rotate(-90) scale(0.9860,1)" font-size="18.33" fill="#000" stroke="#000" stroke-width="0.122">10-min bin #</text>
<text transform="translate(570.18,601.94) scale(1.0183,1)" font-size="16.54" fill="#eb1c24" stroke="#eb1c24" stroke-width="0.118">Bz&lt;-10nT,</text>
<text transform="translate(570.31,625.44) scale(0.9644,1)" font-size="18.19" fill="#eb1c24" stroke="#eb1c24" stroke-width="0.124">and θ&gt;100</text>
<text transform="translate(653.07,623.05) scale(1.1592,1)" font-size="17.17" fill="#eb1c24" stroke="#eb1c24" stroke-width="0.104">°</text>
<text transform="translate(570.04,648.74) scale(0.9959,1)" font-size="18.33" fill="#eb1c24" stroke="#eb1c24" stroke-width="0.120">intervals</text>
</svg>
</body></html>
